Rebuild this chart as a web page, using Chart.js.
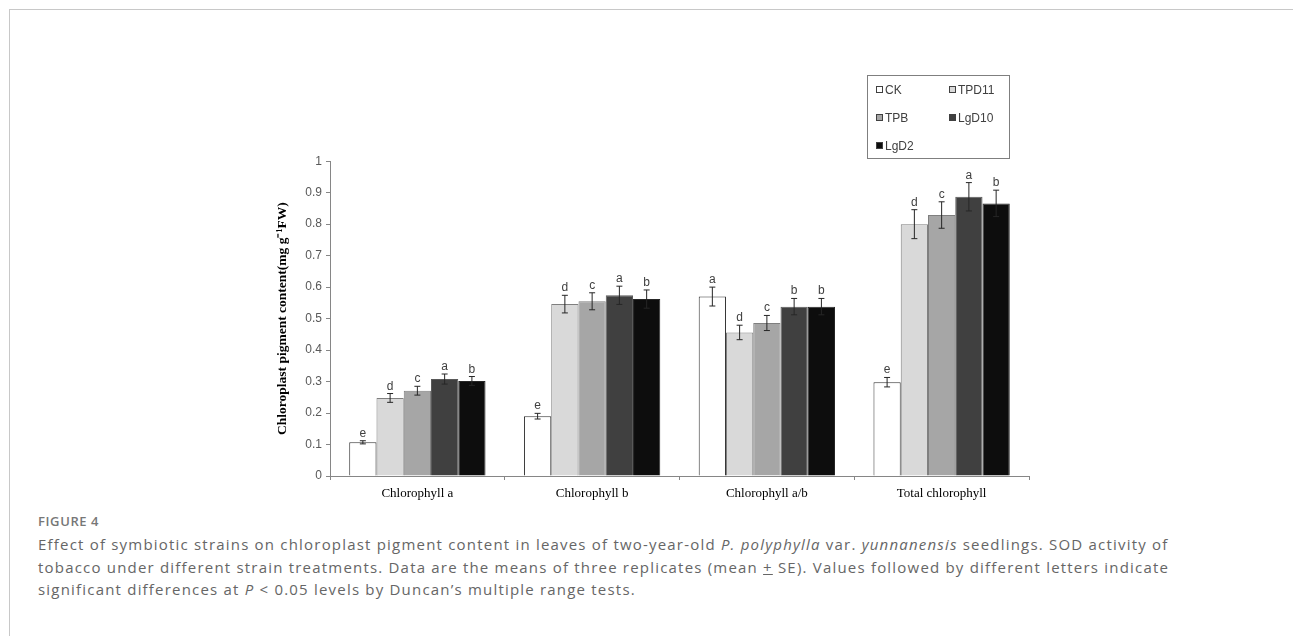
<!DOCTYPE html>
<html>
<head>
<meta charset="utf-8">
<script src="https://cdn.jsdelivr.net/npm/chart.js@4"></script>
<style>
  body { margin: 0; width: 1293px; height: 636px; background: #fff; position: relative; overflow: hidden; font-family: "Open Sans", sans-serif; }
  .frame { position: absolute; left: 9px; top: 9px; right: -2px; bottom: -2px; border-left: 1px solid #c8c8c8; border-top: 1px solid #c8c8c8; }
  #wrap { position: absolute; left: 240px; top: 150px; width: 800px; height: 360px; }
  .legend { position: absolute; left: 867px; top: 75px; width: 141px; height: 82px; border: 1px solid #7f7f7f; }
  .legend .item { position: absolute; font: 12px "Liberation Sans", Arial, sans-serif; color: #404040; line-height: 14px; }
  .legend .sw { display: inline-block; width: 5px; height: 5px; border: 1px solid #404040; margin-right: 2px; vertical-align: 1px; }
  .cap-head { position: absolute; left: 38px; top: 512px; font-size: 13px; font-weight: 600; color: #777; letter-spacing: 0.6px; }
  .cap { position: absolute; left: 38px; top: 533px; width: 1240px; font-size: 15px; line-height: 22.5px; color: #666; letter-spacing: 1.2px; white-space: nowrap; }
</style>
</head>
<body>
<div class="frame"></div>
<div id="wrap"><canvas id="pigmentChart"></canvas></div>
<div class="legend" id="legend"></div>
<div class="cap-head">FIGURE 4</div>
<div class="cap">Effect of symbiotic strains on chloroplast pigment content in leaves of two-year-old <i>P. polyphylla</i> var. <i>yunnanensis</i> seedlings. SOD activity of<br>tobacco under different strain treatments. Data are the means of three replicates (mean <u>+</u> SE). Values followed by different letters indicate<br>significant differences at <i>P</i> &lt; 0.05 levels by Duncan’s multiple range tests.</div>
<script>
  // values
  const categories = ['Chlorophyll a', 'Chlorophyll b', 'Chlorophyll a/b', 'Total chlorophyll'];
  const seriesNames = ['CK', 'TPD11', 'TPB', 'LgD10', 'LgD2'];
  const yTicks = [0, 0.1, 0.2, 0.3, 0.4, 0.5, 0.6, 0.7, 0.8, 0.9, 1];

  const ck    = [0.107, 0.190, 0.570, 0.298];
  const tpd11 = [0.248, 0.546, 0.456, 0.800];
  const tpb   = [0.271, 0.555, 0.486, 0.829];
  const lgd10 = [0.308, 0.574, 0.538, 0.887];
  const lgd2  = [0.302, 0.562, 0.538, 0.866];

  const ckErr    = [0.005, 0.009, 0.030, 0.015];
  const tpd11Err = [0.014, 0.028, 0.023, 0.046];
  const tpbErr   = [0.014, 0.027, 0.024, 0.042];
  const lgd10Err = [0.016, 0.029, 0.026, 0.045];
  const lgd2Err  = [0.014, 0.029, 0.026, 0.042];

  const ckSig    = ['e', 'e', 'a', 'e'];
  const tpd11Sig = ['d', 'd', 'd', 'd'];
  const tpbSig   = ['c', 'c', 'c', 'c'];
  const lgd10Sig = ['a', 'a', 'b', 'a'];
  const lgd2Sig  = ['b', 'b', 'b', 'b'];

  const fills   = ['#ffffff', '#d9d9d9', '#a6a6a6', '#404040', '#0d0d0d'];
  const borders = ['#333333', '#7f7f7f', '#7f7f7f', '#595959', '#262626'];

  const values = [ck, tpd11, tpb, lgd10, lgd2];
  const errors = [ckErr, tpd11Err, tpbErr, lgd10Err, lgd2Err];
  const letters = [ckSig, tpd11Sig, tpbSig, lgd10Sig, lgd2Sig];

  // html legend in a boxed grid, like the excel original
  const legendPos = [[8, 7], [81, 7], [8, 35], [81, 35], [8, 63]];
  const legendBox = document.getElementById('legend');
  seriesNames.forEach((name, i) => {
    const el = document.createElement('div');
    el.className = 'item';
    el.style.left = legendPos[i][0] + 'px';
    el.style.top = legendPos[i][1] + 'px';
    el.innerHTML = '<span class="sw" style="background:' + fills[i] + '"></span>' + name;
    legendBox.appendChild(el);
  });

  // error bars + significance letters
  const errorBars = {
    id: 'errorBars',
    afterDatasetsDraw(chart) {
      const c = chart.ctx;
      const y = chart.scales.y;
      c.save();
      values.forEach((vals, d) => {
        const meta = chart.getDatasetMeta(d);
        meta.data.forEach((bar, i) => {
          const top = y.getPixelForValue(vals[i] + errors[d][i]);
          const bot = y.getPixelForValue(vals[i] - errors[d][i]);
          c.strokeStyle = '#262626';
          c.lineWidth = 1;
          c.beginPath();
          c.moveTo(bar.x, top); c.lineTo(bar.x, bot);
          c.moveTo(bar.x - 3, top); c.lineTo(bar.x + 3, top);
          c.moveTo(bar.x - 3, bot); c.lineTo(bar.x + 3, bot);
          c.stroke();
          c.fillStyle = '#404040';
          c.font = '12px "Liberation Sans", Arial, sans-serif';
          c.textAlign = 'center';
          c.textBaseline = 'alphabetic';
          c.fillText(letters[d][i], bar.x, top - 4);
        });
      });
      c.restore();
    }
  };

  const ctx = document.getElementById('pigmentChart').getContext('2d');
  const pigmentChart = new Chart(ctx, {
      type: 'bar',
      data: {
          labels: categories,
          datasets: seriesNames.map((name, i) => ({
              label: name,
              data: values[i],
              backgroundColor: fills[i],
              borderColor: borders[i],
              borderWidth: 1,
              categoryPercentage: 0.78,
              barPercentage: 1
          }))
      },
      options: {
          responsive: true,
          maintainAspectRatio: false,
          animation: false,
          layout: { padding: { top: 10, right: 11, left: 0, bottom: 0 } },
          plugins: { legend: { display: false }, tooltip: { enabled: false } },
          scales: {
              y: {
                  min: 0,
                  max: 1,
                  afterBuildTicks: (s) => { s.ticks = yTicks.map(v => ({ value: v })); },
                  afterFit: (s) => { s.width = 90; },
                  ticks: {
                      color: '#595959',
                      padding: 4,
                      callback: (v) => String(+Number(v).toFixed(1)),
                      font: { family: '"Liberation Sans", Arial, sans-serif', size: 12 }
                  },
                  grid: { drawOnChartArea: false, tickLength: 4, color: '#868686' },
                  border: { color: '#868686' },
                  title: {
                      display: true,
                      text: 'Chloroplast pigment content(mg g⁻¹FW)',
                      color: '#000',
                      padding: { top: 34, bottom: 0 },
                      font: { family: '"Liberation Serif", "Times New Roman", serif', size: 13.5, weight: 'bold' }
                  }
              },
              x: {
                  afterFit: (s) => { s.height = 34; },
                  ticks: {
                      color: '#000',
                      padding: 6,
                      font: { family: '"Liberation Serif", "Times New Roman", serif', size: 13 }
                  },
                  grid: { drawOnChartArea: false, offset: true, tickLength: 4, color: '#868686' },
                  border: { color: '#868686' }
              }
          }
      },
      plugins: [errorBars]
  });
</script>
</body>
</html>
